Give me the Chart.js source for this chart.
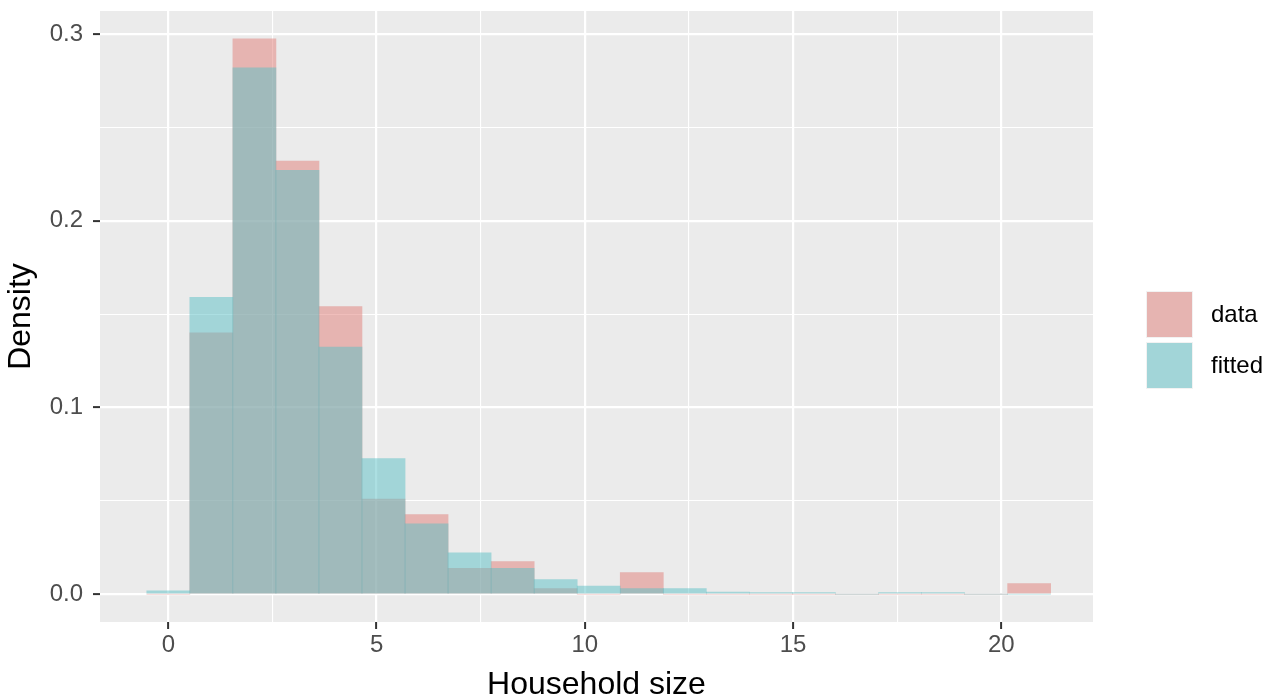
<!DOCTYPE html>
<html>
<head>
<meta charset="utf-8">
<script src="https://cdn.jsdelivr.net/npm/chart.js@4.4.1/dist/chart.umd.min.js"></script>
<style>
  html, body { margin: 0; padding: 0; background: #ffffff; }
  #wrap { width: 1279px; height: 700px; }
</style>
</head>
<body>
<div id="wrap"><canvas id="hist" width="1279" height="700"></canvas></div>
<script>
// bin centres (household size) and densities
const binCenters = [0, 1.033, 2.067, 3.1, 4.133, 5.167, 6.2, 7.233, 8.267, 9.3, 10.333,
  11.367, 12.4, 13.433, 14.467, 15.5, 16.533, 17.567, 18.6, 19.633, 20.667];
const dataDensity = [0, 0.140, 0.2975, 0.232, 0.154, 0.051, 0.0427, 0.0139, 0.0175, 0.003, 0,
  0.0116, 0, 0, 0, 0, 0, 0, 0, 0, 0.0057];
const fittedDensity = [0.0018, 0.159, 0.282, 0.227, 0.1324, 0.0726, 0.0377, 0.0222, 0.0139, 0.0078, 0.0044,
  0.003, 0.003, 0.0011, 0.0009, 0.0008, 0, 0.0008, 0.0008, 0, 0];
const seriesNames = ["data", "fitted"];

const xMajor = [0, 5, 10, 15, 20];
const xMinor = [2.5, 7.5, 12.5, 17.5];
const xLabels = ["0", "5", "10", "15", "20"];
const yMajor = [0, 0.1, 0.2, 0.3];
const yMinor = [0.05, 0.15, 0.25];
const yLabels = ["0.0", "0.1", "0.2", "0.3"];

const FONT = "'Liberation Sans', Arial, Helvetica, sans-serif";

function points(vals) {
  return binCenters.map((c, i) => ({ x: c, y: vals[i] }));
}

function setTicks(major, minor) {
  return function (scale) {
    scale.ticks = major.concat(minor).sort((a, b) => a - b).map(v => ({ value: v }));
  };
}

function majorIndex(list, v) {
  return list.findIndex(m => Math.abs(m - v) < 1e-9);
}

function isMajorCtx(list, c) {
  return !!(c && c.tick) && majorIndex(list, c.tick.value) >= 0;
}

function noAutoPad(scale) {
  scale.paddingTop = 0;
  scale.paddingBottom = 0;
  scale.paddingLeft = 0;
  scale.paddingRight = 0;
}

const panelBg = {
  id: 'panelBg',
  beforeDraw(chart) {
    const a = chart.chartArea;
    chart.ctx.save();
    chart.ctx.fillStyle = '#EBEBEB';
    chart.ctx.fillRect(a.left, a.top, a.right - a.left, a.bottom - a.top);
    chart.ctx.restore();
  }
};

// ggplot-like legend keys to the right of the panel
const keyFills = ["#E6B4B1", "#A2D5D8"];
const ggLegend = {
  id: 'ggLegend',
  afterDraw(chart) {
    const ctx = chart.ctx;
    const size = 47, gap = 4;
    const x = chart.chartArea.right + 53;
    let y = 291;
    ctx.save();
    seriesNames.forEach((name, i) => {
      ctx.fillStyle = '#F2F2F2';
      ctx.fillRect(x, y, size, size);
      ctx.fillStyle = keyFills[i];
      ctx.fillRect(x + 1, y + 1, size - 2, size - 2);
      ctx.fillStyle = '#000000';
      ctx.font = "24px " + FONT;
      ctx.textBaseline = 'middle';
      ctx.textAlign = 'left';
      ctx.fillText(name, x + size + 18, y + size / 2 + 1);
      y += size + gap;
    });
    ctx.restore();
  }
};

new Chart(document.getElementById("hist"), {
  type: 'bar',
  data: {
    datasets: [{
      label: seriesNames[0],
      data: points(dataDensity),
      backgroundColor: 'rgba(225,125,119,0.5)',
      borderWidth: 0,
      order: 2
    }, {
      label: seriesNames[1],
      data: points(fittedDensity),
      backgroundColor: 'rgba(89,191,197,0.5)',
      borderWidth: 0,
      order: 1
    }]
  },
  options: {
    responsive: false,
    animation: false,
    events: [],
    layout: { autoPadding: false, padding: { left: 0, top: 11, right: 186, bottom: 0 } },
    datasets: { bar: { barPercentage: 1, categoryPercentage: 1, grouped: false } },
    plugins: { legend: { display: false }, tooltip: { enabled: false } },
    scales: {
      x: {
        type: 'linear',
        offset: false,
        min: -1.64,
        max: 22.2,
        afterBuildTicks: setTicks(xMajor, xMinor),
        afterFit(scale) { scale.height = 78; noAutoPad(scale); },
        border: { display: false },
        grid: {
          offset: false,
          color: '#FFFFFF',
          lineWidth: c => isMajorCtx(xMajor, c) ? 2.2 : 1.1,
          tickColor: c => isMajorCtx(xMajor, c) ? '#333333' : 'rgba(0,0,0,0)',
          tickLength: 7,
          tickWidth: 2
        },
        ticks: {
          autoSkip: false,
          maxRotation: 0,
          padding: 2,
          color: '#4D4D4D',
          font: { family: FONT, size: 24 },
          callback: v => { const i = majorIndex(xMajor, v); return i >= 0 ? xLabels[i] : ''; }
        },
        title: {
          display: true,
          text: 'Household size',
          color: '#000000',
          font: { family: FONT, size: 32 },
          padding: { top: 0, bottom: -4 }
        }
      },
      y: {
        type: 'linear',
        min: -0.0149,
        max: 0.3124,
        afterBuildTicks: setTicks(yMajor, yMinor),
        afterFit(scale) { scale.width = 100; noAutoPad(scale); },
        border: { display: false },
        grid: {
          color: '#FFFFFF',
          lineWidth: c => isMajorCtx(yMajor, c) ? 2.2 : 1.1,
          tickColor: c => isMajorCtx(yMajor, c) ? '#333333' : 'rgba(0,0,0,0)',
          tickLength: 7,
          tickWidth: 2
        },
        ticks: {
          autoSkip: false,
          padding: 10,
          color: '#4D4D4D',
          font: { family: FONT, size: 24 },
          callback: v => { const i = majorIndex(yMajor, v); return i >= 0 ? yLabels[i] : ''; }
        },
        title: {
          display: true,
          text: 'Density',
          color: '#000000',
          font: { family: FONT, size: 32 },
          padding: { top: 2, bottom: 0 }
        }
      }
    }
  },
  plugins: [panelBg, ggLegend]
});
</script>
</body>
</html>
